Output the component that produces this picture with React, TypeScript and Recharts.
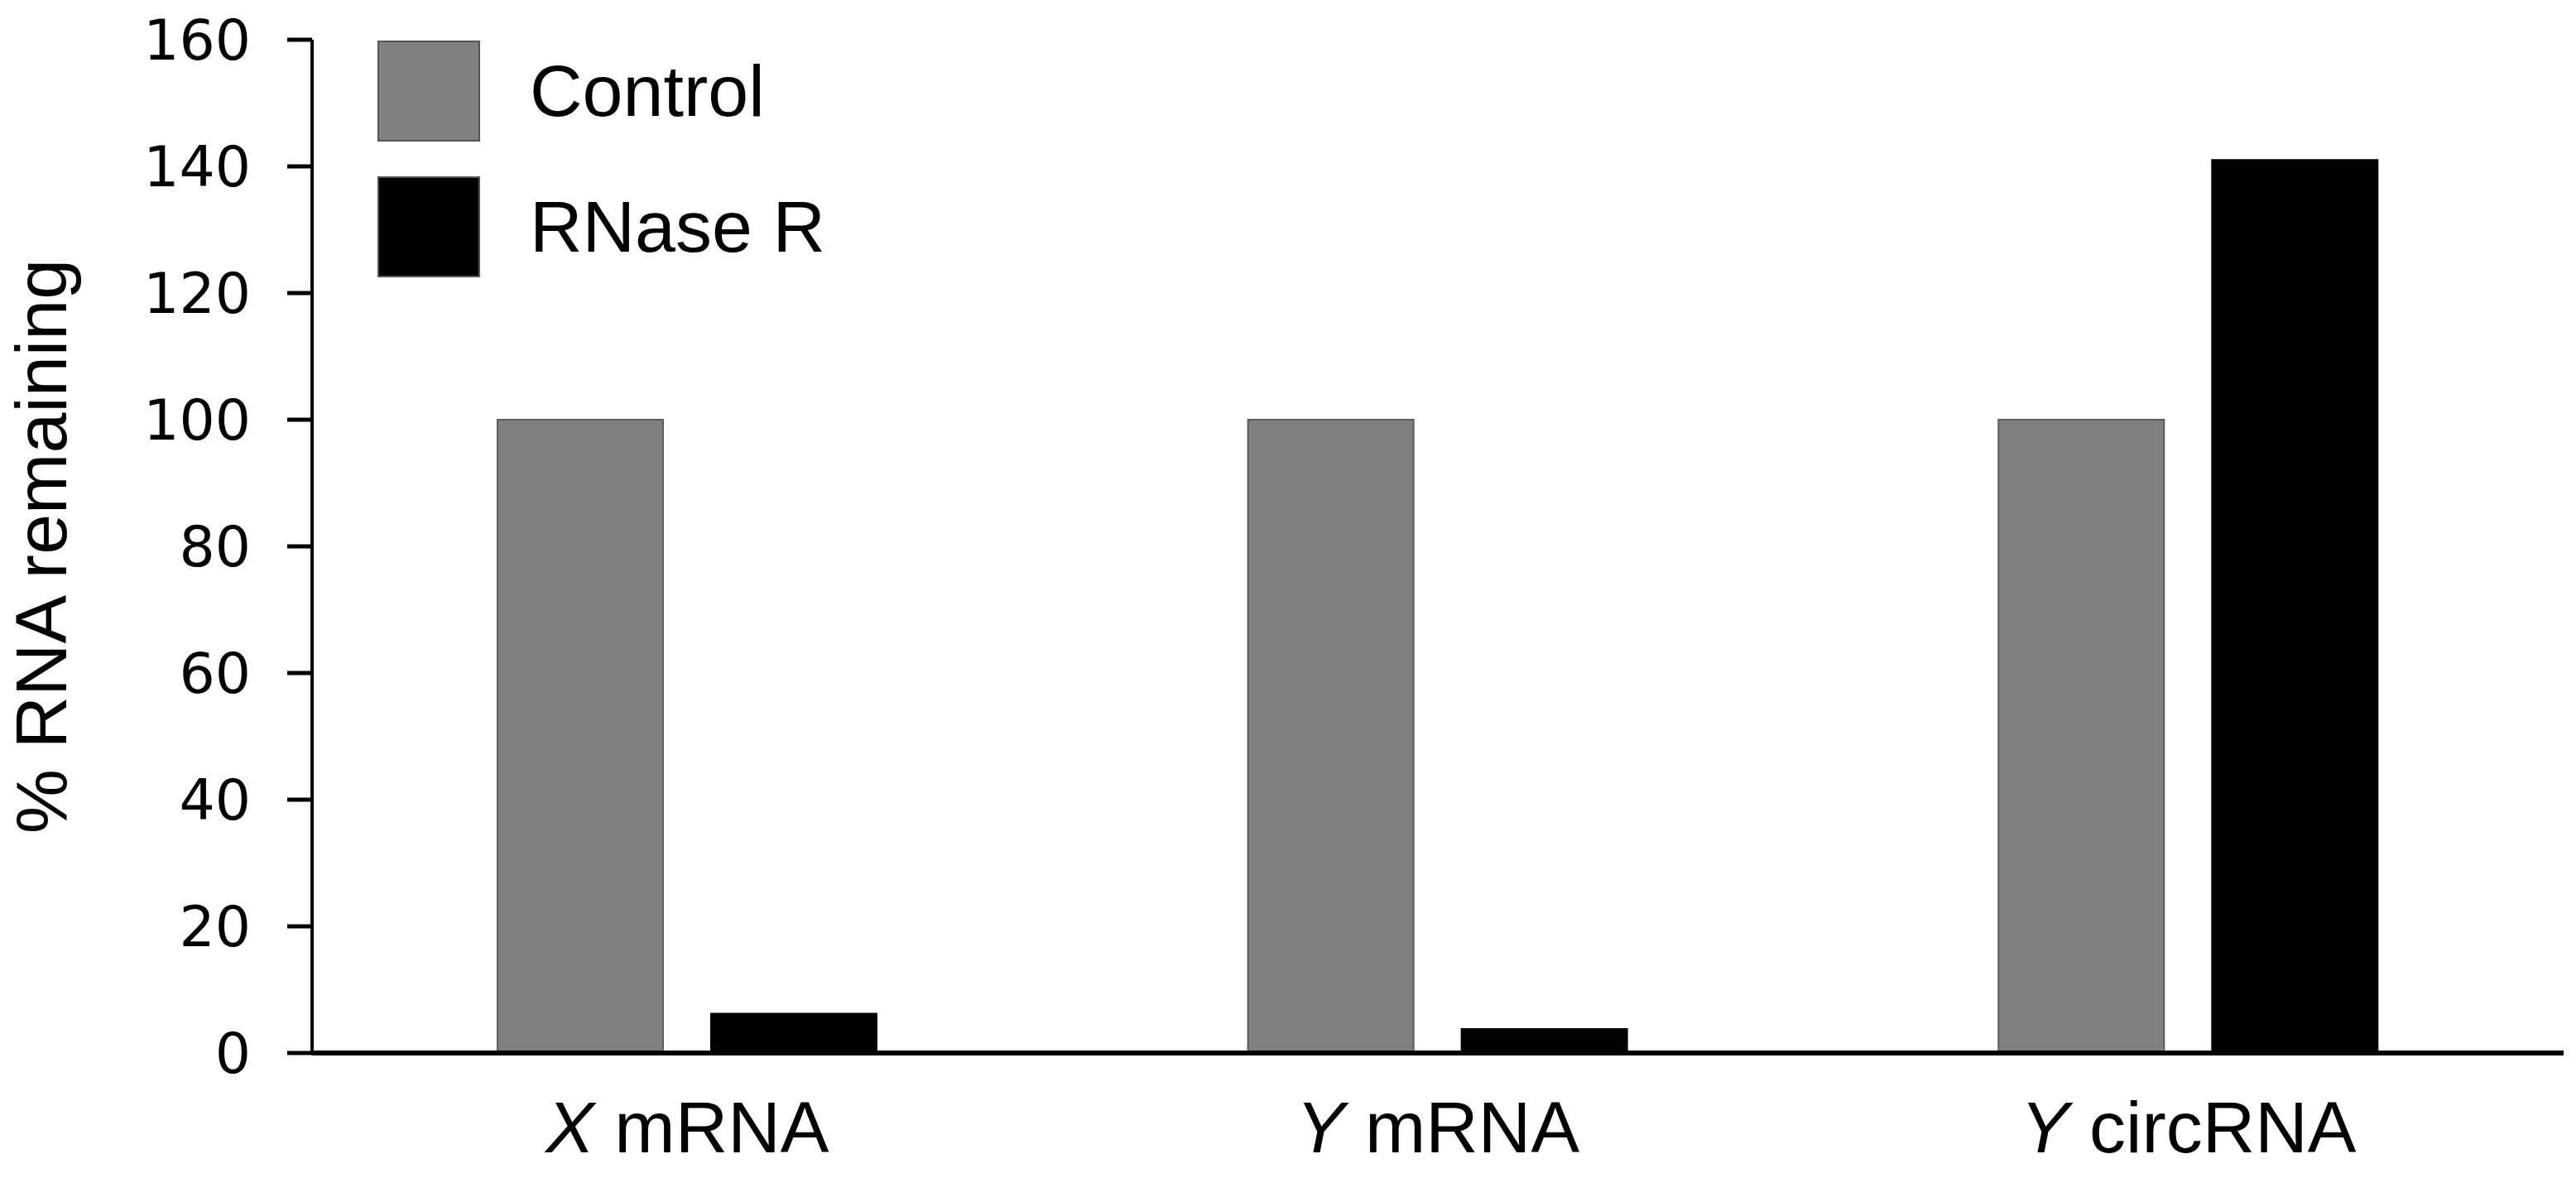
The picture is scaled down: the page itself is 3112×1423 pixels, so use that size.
import React from "react";
import { BarChart, Bar, XAxis, YAxis, Legend } from "recharts";

const categories = ["X mRNA", "Y mRNA", "Y circRNA"];
const controlValues = [100, 100, 100];
const rnaseRValues = [6.2, 3.8, 141];
const yTicks = [0, 20, 40, 60, 80, 100, 120, 140, 160];

const data = categories.map((name, i) => ({
  name,
  control: controlValues[i],
  rnaseR: rnaseRValues[i],
}));

const LABEL_FONT = "'Liberation Sans', Arial, sans-serif";
const TICK_FONT = "'DejaVu Sans', Verdana, sans-serif";

function CategoryTick(props: any) {
  const { x, y, payload } = props;
  const [gene, ...rest] = String(payload.value).split(" ");
  return (
    <text
      x={x}
      y={y + 118}
      textAnchor="middle"
      fontFamily={LABEL_FONT}
      fontSize={88}
      fill="#000"
    >
      <tspan fontStyle="italic">{gene}</tspan>
      <tspan> {rest.join(" ")}</tspan>
    </text>
  );
}

function LegendBox(props: any) {
  const items = props.payload || [];
  return (
    <div style={{ fontFamily: LABEL_FONT }}>
      {items.map((it: any) => (
        <div
          key={it.value}
          style={{ display: "flex", alignItems: "center", height: 164 }}
        >
          <div
            style={{
              width: 120,
              height: 118,
              background: it.color,
              border: "2px solid #555",
            }}
          />
          <span style={{ marginLeft: 60, fontSize: 88, color: "#000" }}>
            {it.value}
          </span>
        </div>
      ))}
    </div>
  );
}

export default function App() {
  return (
    <div style={{ position: "absolute", left: 0, top: 0, background: "#fff" }}>
      <BarChart
        width={3112}
        height={1423}
        data={data}
        margin={{ top: 48, right: 15, bottom: 0, left: 0 }}
        barSize={200}
        barGap={58}
      >
        <XAxis
          dataKey="name"
          height={151}
          axisLine={{ stroke: "#000", strokeWidth: 6 }}
          tickLine={false}
          tickSize={0}
          tick={<CategoryTick />}
          interval={0}
        />
        <YAxis
          width={377}
          domain={[0, 160]}
          ticks={yTicks}
          interval={0}
          axisLine={{ stroke: "#000", strokeWidth: 4 }}
          tickLine={{ stroke: "#000", strokeWidth: 5 }}
          tickSize={30}
          tickMargin={44}
          tick={{ fill: "#000", fontSize: 68, fontFamily: TICK_FONT }}
          label={{
            content: (p: any) => {
              const vb = p.viewBox;
              return (
                <text
                  transform={`translate(${vb.x + 80}, ${vb.y + vb.height / 2}) rotate(-90)`}
                  textAnchor="middle"
                  fontFamily={LABEL_FONT}
                  fontSize={88}
                  fill="#000"
                >
                  % RNA remaining
                </text>
              );
            },
          }}
        />
        <Legend
          layout="vertical"
          align="center"
          verticalAlign="middle"
          content={<LegendBox />}
          wrapperStyle={{ top: 28, left: 456, width: "auto" }}
        />
        <Bar
          dataKey="control"
          name="Control"
          fill="#808080"
          stroke="#5a5a5a"
          strokeWidth={2}
          isAnimationActive={false}
        />
        <Bar
          dataKey="rnaseR"
          name="RNase R"
          fill="#000"
          stroke="#000"
          strokeWidth={2}
          isAnimationActive={false}
        />
      </BarChart>
    </div>
  );
}
